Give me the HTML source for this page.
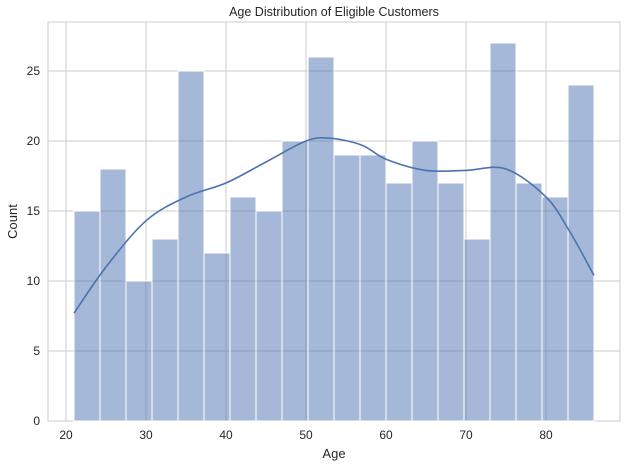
<!DOCTYPE html>
<html><head><meta charset="utf-8"><style>
html,body{margin:0;padding:0;background:#fff;}
svg text{font-family:"Liberation Sans",sans-serif;fill:#262626;}
</style></head><body>
<svg id="chart" width="627" height="467" xmlns="http://www.w3.org/2000/svg"></svg>
<script>
const binStart = 21, binEnd = 86;
const counts = [15,18,10,13,25,12,16,15,20,26,19,19,17,20,17,13,27,17,16,24];
const kdeX = [21,25,30,35,40,45,50,53,57,60,65,70,75,80,83,86];
const kdeY = [7.7,11,14.3,16,17,18.5,20,20.2,19.7,18.7,17.9,17.9,18,16,13.5,10.4];
const xTicks = [20,30,40,50,60,70,80];
const yTicks = [0,5,10,15,20,25];

const L=48,R=620,T=22,B=421;
const xMin=17.75,xMax=89.25,yMax=28.5;
const sx=v=>L+(v-xMin)/(xMax-xMin)*(R-L);
const sy=v=>B-v/yMax*(B-T);
const svg=document.getElementById('chart');
const NS='http://www.w3.org/2000/svg';
function mk(tag,attrs,parent){const e=document.createElementNS(NS,tag);for(const k in attrs)e.setAttribute(k,attrs[k]);(parent||svg).appendChild(e);return e;}

const frame=mk('rect',{x:L,y:T,width:R-L,height:B-T,fill:'#fff',stroke:'#cccccc','stroke-width':1});



xTicks.forEach(t=>{
  const g=mk('line',{x1:sx(t),x2:sx(t),y1:T,y2:B,stroke:'#cccccc','stroke-width':1});
  
  
  const tx=mk('text',{x:sx(t),y:B+18,'text-anchor':'middle','font-size':12});
  tx.textContent=t;
  
  
});
yTicks.forEach(t=>{
  const g=mk('line',{x1:L,x2:R,y1:sy(t),y2:sy(t),stroke:'#cccccc','stroke-width':1});
  
  
  const tx=mk('text',{x:L-8,y:sy(t)+4,'text-anchor':'end','font-size':12});
  tx.textContent=t;
  
  
});

const bw=(binEnd-binStart)/counts.length;
counts.forEach((c,i)=>{
  const x0=sx(binStart+i*bw),x1=sx(binStart+(i+1)*bw);
  const r=mk('rect',{x:x0,y:sy(c),width:x1-x0,height:sy(0)-sy(c),fill:'rgba(76,114,176,0.5)',stroke:'#fff','stroke-width':1});
  
  
});

const pts=kdeX.map((v,i)=>[sx(v),sy(kdeY[i])]);
let d='M'+pts[0][0]+','+pts[0][1];
for(let i=0;i<pts.length-1;i++){
  const p0=pts[Math.max(0,i-1)],p1=pts[i],p2=pts[i+1],p3=pts[Math.min(pts.length-1,i+2)];
  const c1=[p1[0]+(p2[0]-p0[0])/6,p1[1]+(p2[1]-p0[1])/6];
  const c2=[p2[0]-(p3[0]-p1[0])/6,p2[1]-(p3[1]-p1[1])/6];
  d+=` C${c1[0]},${c1[1]} ${c2[0]},${c2[1]} ${p2[0]},${p2[1]}`;
}
const kde=mk('path',{d:d,fill:'none',stroke:'#4c72b0','stroke-width':1.6});



const title=mk('text',{x:(L+R)/2,y:16,'text-anchor':'middle','font-size':12.5});
title.textContent='Age Distribution of Eligible Customers';


const xl=mk('text',{x:(L+R)/2,y:458,'text-anchor':'middle','font-size':13});
xl.textContent='Age';


const yl=mk('text',{x:17,y:(T+B)/2,'text-anchor':'middle','font-size':13,transform:`rotate(-90 17 ${(T+B)/2})`});
yl.textContent='Count';


</script>
</body></html>
